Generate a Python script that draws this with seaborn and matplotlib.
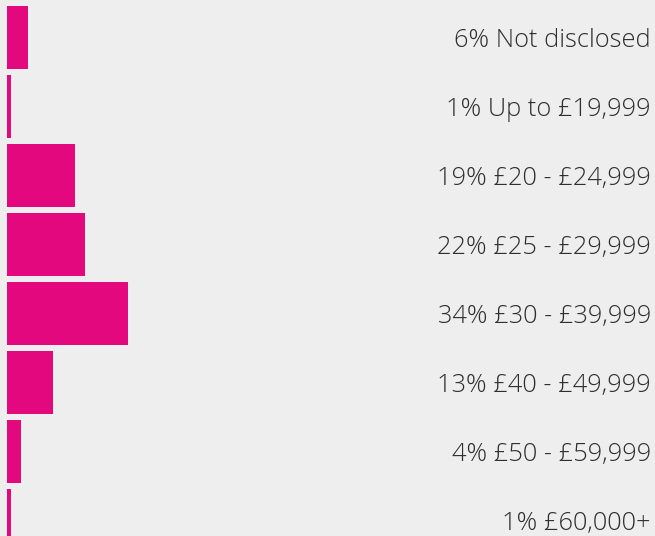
import pandas as pd
import seaborn as sns
import matplotlib.pyplot as plt

# salary bands and share of respondents (%)
bandas = ["Not disclosed", "Up to £19,999", "£20 - £24,999", "£25 - £29,999",
          "£30 - £39,999", "£40 - £49,999", "£50 - £59,999", "£60,000+"]
porcentajes = [6, 1, 19, 22, 34, 13, 4, 1]

df = pd.DataFrame({"banda": bandas, "pct": porcentajes})

fondo = "#eeeeee"
magenta = "#e4087e"

fig = plt.figure(figsize=(6.55, 5.36), dpi=100, facecolor=fondo)
ax = fig.add_axes([0, 0, 1, 1])
ax.set_facecolor(fondo)

sns.barplot(data=df, x="pct", y="banda", orient="h", color=magenta,
            saturation=1, width=0.913, ax=ax)

# 3.56 px per percent, bars start at pixel 7
ax.set_xlim(-7 / 3.56, 648 / 3.56)
ax.set_ylim((536 - 37.5) / 69, -37.5 / 69)

for i, row in df.iterrows():
    ax.text(651 / 655, i + 3 / 69, f"{row['pct']}% {row['banda']}",
            transform=ax.get_yaxis_transform(), ha="right", va="center",
            fontsize=18.3, color="#2e2e2e", family=["Open Sans", "DejaVu Sans"],
            fontweight="light")

ax.axis("off")
fig.savefig("out.png", dpi=100, facecolor=fondo)
